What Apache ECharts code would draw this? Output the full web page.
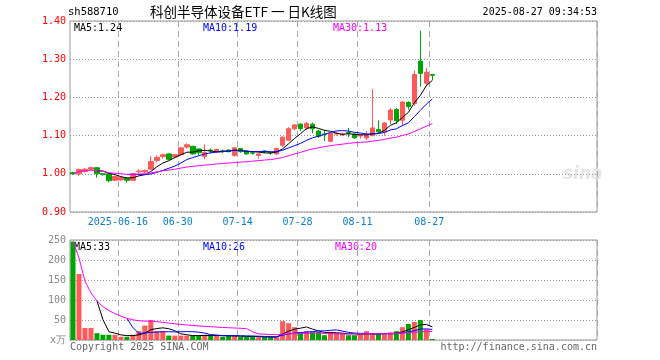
<!DOCTYPE html>
<html><head><meta charset="utf-8">
<script src="https://cdn.jsdelivr.net/npm/echarts@6/dist/echarts.min.js"></script>
<style>html,body{margin:0;padding:0;background:#fff}#c{width:660px;height:360px}</style>
</head><body><div id="c"></div>
<script>
const dates = ['06-04','06-05','06-06','06-09','06-10','06-11','06-12','06-13','06-16','06-17','06-18','06-19','06-20','06-23','06-24','06-25','06-26','06-27','06-30',
'07-01','07-02','07-03','07-04','07-07','07-08','07-09','07-10','07-11','07-14','07-15','07-16','07-17','07-18','07-21','07-22','07-23','07-24','07-25','07-28','07-29','07-30','07-31',
'08-01','08-04','08-05','08-06','08-07','08-08','08-11','08-12','08-13','08-14','08-15','08-18','08-19','08-20','08-21','08-22','08-25','08-26','08-27'];
const opens  = [1.003,1.000,1.006,1.012,1.016,1.000,1.000,0.983,0.984,0.988,0.983,1.005,1.005,1.012,1.035,1.045,1.052,1.044,1.050,1.070,1.072,1.065,1.045,1.062,1.058,1.060,1.062,1.048,1.066,1.060,1.055,1.048,1.060,1.056,1.052,1.075,1.088,1.118,1.130,1.120,1.130,1.112,1.104,1.085,1.104,1.102,1.108,1.104,1.099,1.094,1.100,1.116,1.109,1.141,1.168,1.140,1.187,1.184,1.295,1.237,1.260];
const closes = [1.000,1.011,1.012,1.016,1.000,0.998,0.982,0.993,0.990,0.983,1.000,1.007,1.009,1.032,1.043,1.050,1.038,1.050,1.068,1.076,1.052,1.055,1.056,1.060,1.064,1.059,1.058,1.068,1.058,1.052,1.054,1.052,1.058,1.055,1.066,1.096,1.118,1.128,1.118,1.132,1.118,1.098,1.103,1.106,1.106,1.104,1.106,1.094,1.101,1.104,1.120,1.110,1.133,1.167,1.139,1.188,1.176,1.260,1.263,1.266,1.258];
const lows   = [0.997,0.995,1.003,1.010,0.990,0.995,0.978,0.981,0.982,0.977,0.982,1.000,1.002,1.010,1.030,1.040,1.036,1.040,1.048,1.066,1.050,1.048,1.038,1.054,1.056,1.055,1.056,1.045,1.055,1.050,1.050,1.040,1.054,1.050,1.050,1.070,1.085,1.114,1.112,1.115,1.106,1.094,1.086,1.083,1.100,1.098,1.096,1.092,1.092,1.089,1.098,1.106,1.100,1.130,1.130,1.125,1.168,1.178,1.228,1.230,1.245];
const highs  = [1.005,1.014,1.015,1.018,1.017,1.002,1.001,0.995,0.992,0.990,1.002,1.012,1.011,1.046,1.048,1.053,1.054,1.052,1.070,1.080,1.073,1.066,1.077,1.066,1.065,1.063,1.064,1.070,1.068,1.062,1.058,1.054,1.062,1.058,1.068,1.098,1.122,1.130,1.132,1.136,1.134,1.115,1.115,1.108,1.110,1.108,1.120,1.106,1.104,1.112,1.222,1.140,1.135,1.172,1.172,1.190,1.190,1.270,1.375,1.277,1.260];
const volumes = [246,165,30,30,17,13,13,13,8,8,13,22,36,50,22,22,11,11,11,11,11,11,13,11,11,8,10,11,8,8,8,7,7,7,7,47,42,32,20,22,20,20,12,20,18,16,12,12,14,22,14,14,14,19,22,32,40,45,50,27,2.5];
const tickDates = ['06-16','06-30','07-14','07-28','08-11','08-27'];
const tickLabels = ['2025-06-16','06-30','07-14','07-28','08-11','08-27'];
const maPriceText = ['MA5:1.24','MA10:1.19','MA30:1.13'];
const maVolText = ['MA5:33','MA10:26','MA30:20'];
const titleCode = 'sh588710';
const titleText = '科创半导体设备ETF 一 日K线图';
const stamp = '2025-08-27 09:34:53';

const RED = '#ff5a5a', GREEN = '#00a400';
const EMPTY = 27;
const cats = dates.concat(Array.from({length: EMPTY}, (_, k) => 'e' + k));
const tickIdx = tickDates.map(d => dates.indexOf(d));

function ma(arr, n, cumulative) {
  const out = [];
  for (let i = 0; i < arr.length; i++) {
    if (i < n - 1) {
      if (!cumulative) { out.push(null); continue; }
      let s = 0; for (let j = 0; j <= i; j++) s += arr[j];
      out.push(s / (i + 1));
    } else {
      let s = 0; for (let j = i - n + 1; j <= i; j++) s += arr[j];
      out.push(s / n);
    }
  }
  return out;
}

const kData = dates.map((d, i) => [opens[i], closes[i], lows[i], highs[i]]);
const volData = volumes.map((v, i) => ({value: v, itemStyle: {color: closes[i] >= opens[i] ? RED : GREEN}}));

const L = 70, R = 597, W = R - L;
const mono = 'DejaVu Sans Mono';
const F = '10px "DejaVu Sans Mono"';
const splitX = {show: true, interval: (i) => tickIdx.includes(i), lineStyle: {color: '#aaa', type: [6, 4], width: 1}};

const chart = echarts.init(document.getElementById('c'), null, {renderer: 'canvas'});
chart.setOption({
  animation: false,
  backgroundColor: '#fff',
  grid: [
    {left: L, top: 21, width: W, height: 191, show: true, borderColor: '#999', borderWidth: 1, backgroundColor: 'transparent'},
    {left: L, top: 240, width: W, height: 100, show: true, borderColor: '#999', borderWidth: 1, backgroundColor: 'transparent'}
  ],
  xAxis: [
    {type: 'category', gridIndex: 0, data: cats, boundaryGap: true,
      axisLine: {show: false}, axisTick: {show: false},
      axisLabel: {interval: (i) => tickIdx.includes(i), formatter: (v) => tickLabels[tickDates.indexOf(v)] || '',
        color: '#0a7fd0', fontFamily: mono, fontSize: 10, margin: 5, padding: [0, 6, 0, 0]},
      splitLine: splitX},
    {type: 'category', gridIndex: 1, data: cats, boundaryGap: true,
      axisLine: {show: false}, axisTick: {show: false}, axisLabel: {show: false},
      splitLine: splitX}
  ],
  yAxis: [
    {type: 'value', gridIndex: 0, min: 0.9, max: 1.4, interval: 0.1, scale: true,
      axisLine: {show: false}, axisTick: {show: false},
      axisLabel: {color: '#ff0000', fontFamily: mono, fontSize: 10, margin: 4, formatter: (v) => v.toFixed(2)},
      splitLine: {show: true, lineStyle: {color: '#999', type: [1, 2], width: 1}}},
    {type: 'value', gridIndex: 1, min: 0, max: 250, interval: 50,
      axisLine: {show: false}, axisTick: {show: false},
      axisLabel: {color: '#888', fontFamily: mono, fontSize: 10, margin: 4, formatter: (v) => v === 0 ? 'x万' : String(v)},
      splitLine: {show: true, lineStyle: {color: '#999', type: [1, 2], width: 1}}}
  ],
  series: [
    {type: 'candlestick', xAxisIndex: 0, yAxisIndex: 0, data: kData, barWidth: 5,
      itemStyle: {color: RED, color0: GREEN, borderColor: RED, borderColor0: GREEN, borderWidth: 1}},
    {type: 'line', xAxisIndex: 0, yAxisIndex: 0, data: ma(closes, 5), showSymbol: false, lineStyle: {color: '#000', width: 1}},
    {type: 'line', xAxisIndex: 0, yAxisIndex: 0, data: ma(closes, 10), showSymbol: false, lineStyle: {color: '#0000ff', width: 1}},
    {type: 'line', xAxisIndex: 0, yAxisIndex: 0, data: ma(closes, 30, true), showSymbol: false, lineStyle: {color: '#ff00ff', width: 1}},
    {type: 'bar', xAxisIndex: 1, yAxisIndex: 1, data: volData, barWidth: 5},
    {type: 'line', xAxisIndex: 1, yAxisIndex: 1, data: ma(volumes, 5), showSymbol: false, lineStyle: {color: '#000', width: 1}},
    {type: 'line', xAxisIndex: 1, yAxisIndex: 1, data: ma(volumes, 10), showSymbol: false, lineStyle: {color: '#0000ff', width: 1}},
    {type: 'line', xAxisIndex: 1, yAxisIndex: 1, data: ma(volumes, 30, true), showSymbol: false, lineStyle: {color: '#ff00ff', width: 1}}
  ],
  graphic: [
    {type: 'text', left: 68, top: 7, style: {text: titleCode, font: '10.5px "DejaVu Sans Mono"', fill: '#000'}},
    {type: 'text', left: 150, top: 5, style: {text: titleText, font: '13.5px "Noto Sans CJK SC"', fill: '#000'}},
    {type: 'text', right: 660 - R, top: 7, style: {text: stamp, font: F, fill: '#000'}},
    {type: 'text', left: 74, top: 23, style: {text: maPriceText[0], font: F, fill: '#000'}},
    {type: 'text', left: 203, top: 23, style: {text: maPriceText[1], font: F, fill: '#0000ff'}},
    {type: 'text', left: 333, top: 23, style: {text: maPriceText[2], font: F, fill: '#ff00ff'}},
    {type: 'text', left: 74, top: 242, style: {text: maVolText[0], font: F, fill: '#000'}},
    {type: 'text', left: 203, top: 242, style: {text: maVolText[1], font: F, fill: '#0000ff'}},
    {type: 'text', left: 335, top: 242, style: {text: maVolText[2], font: F, fill: '#ff00ff'}},
    {type: 'text', left: 70, top: 342, style: {text: 'Copyright 2025 SINA.COM', font: F, fill: '#666'}},
    {type: 'text', right: 660 - R, top: 342, style: {text: 'http://finance.sina.com.cn', font: F, fill: '#666'}},
    {type: 'text', left: 563, top: 166, style: {text: 'sina', font: 'italic bold 17px "DejaVu Sans"', fill: '#e6e6e6'}}
  ]
});
</script></body></html>
